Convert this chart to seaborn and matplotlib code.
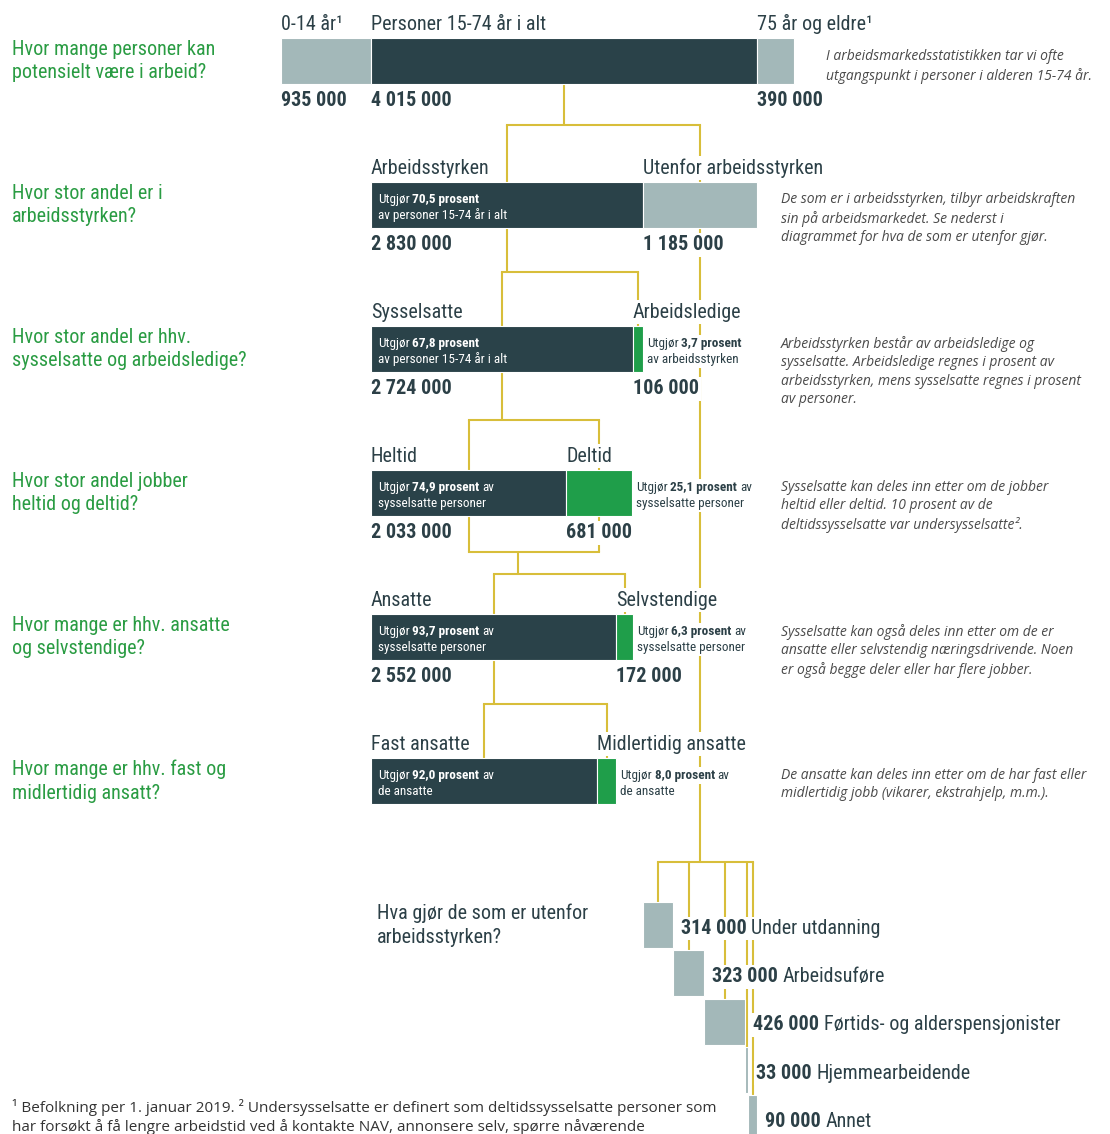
import matplotlib
matplotlib.use("Agg")
import matplotlib.pyplot as plt
import seaborn as sns

# ---------------- data ----------------
pop_labels = ["0-14 år¹", "Personer 15-74 år i alt", "75 år og eldre¹"]
pop_values = [935000, 4015000, 390000]

force_labels = ["Arbeidsstyrken", "Utenfor arbeidsstyrken"]
force_values = [2830000, 1185000]
force_pct = [70.5]

emp_labels = ["Sysselsatte", "Arbeidsledige"]
emp_values = [2724000, 106000]
emp_pct = [67.8, 3.7]

time_labels = ["Heltid", "Deltid"]
time_values = [2033000, 681000]
time_pct = [74.9, 25.1]

status_labels = ["Ansatte", "Selvstendige"]
status_values = [2552000, 172000]
status_pct = [93.7, 6.3]

contract_labels = ["Fast ansatte", "Midlertidig ansatte"]
contract_pct = [92.0, 8.0]

outside_labels = ["Under utdanning", "Arbeidsuføre", "Førtids- og alderspensjonister",
                  "Hjemmearbeidende", "Annet"]
outside_values = [314000, 323000, 426000, 33000, 90000]

questions = [
    "Hvor mange personer kan\npotensielt være i arbeid?",
    "Hvor stor andel er i\narbeidsstyrken?",
    "Hvor stor andel er hhv.\nsysselsatte og arbeidsledige?",
    "Hvor stor andel jobber\nheltid og deltid?",
    "Hvor mange er hhv. ansatte\nog selvstendige?",
    "Hvor mange er hhv. fast og\nmidlertidig ansatt?",
]
notes = [
    "I arbeidsmarkedsstatistikken tar vi ofte\nutgangspunkt i personer i alderen 15-74 år.",
    "De som er i arbeidsstyrken, tilbyr arbeidskraften\nsin på arbeidsmarkedet. Se nederst i\ndiagrammet for hva de som er utenfor gjør.",
    "Arbeidsstyrken består av arbeidsledige og\nsysselsatte. Arbeidsledige regnes i prosent av\narbeidsstyrken, mens sysselsatte regnes i prosent\nav personer.",
    "Sysselsatte kan deles inn etter om de jobber\nheltid eller deltid. 10 prosent av de\ndeltidssysselsatte var undersysselsatte².",
    "Sysselsatte kan også deles inn etter om de er\nansatte eller selvstendig næringsdrivende. Noen\ner også begge deler eller har flere jobber.",
    "De ansatte kan deles inn etter om de har fast eller\nmidlertidig jobb (vikarer, ekstrahjelp, m.m.).",
]
outside_question = "Hva gjør de som er utenfor\narbeidsstyrken?"
footnote = ("¹ Befolkning per 1. januar 2019. ² Undersysselsatte er definert som deltidssysselsatte personer som\n"
            "har forsøkt å få lengre arbeidstid ved å kontakte NAV, annonsere selv, spørre nåværende")

# ---------------- style ----------------
sns.set_theme(style="white")
COND = ["Roboto Condensed", "Roboto", "DejaVu Sans"]
NOTEF = ["Open Sans", "DejaVu Sans"]
plt.rcParams["font.family"] = COND

DARK = "#2a4249"
LIGHT = "#a3b8b9"
GREEN = "#1f9e4a"
GOLD = "#d8be3a"
QGREEN = "#2a9c43"
TXT = "#2c4047"
NOTEC = "#4a4a4a"
LW = 1.5

W, H = 1110, 1134
X0 = 371                      # pixel where 15-74 bar starts
S = 386 / 4015000             # pixels per person
ROW_Y = [61, 205, 349, 493, 637, 781]
BAR_H = 46
BOX_Y0, BOX_STEP = 925, 48.25
JY = [125, 272, 420, 552, 574, 704, 862]

LAB_FS, NUM_FS, IN_FS, Q_FS, NOTE_FS, FOOT_FS = 14.5, 14.5, 9.5, 14.5, 10, 11

fig = plt.figure(figsize=(W / 100, H / 100), dpi=100)
fig.patch.set_facecolor("white")
ax = fig.add_axes([0, 0, 1, 1])
ax.set_xlim(-X0 / S, (W - X0) / S)
ax.set_ylim(H, 0)
ax.axis("off")
axp = fig.add_axes([0, 0, 1, 1])
axp.set_xlim(0, W)
axp.set_ylim(H, 0)
axp.axis("off")
axp.patch.set_alpha(0)

WB = dict(boxstyle="square,pad=0.12", fc="white", ec="none")


def px(n):
    return n / S


def fmt(v):
    return f"{int(round(v)):,}".replace(",", " ")


def pct(p):
    return f"{p:.1f}".replace(".", ",") + " prosent"


def rich(x, y, parts, color, size, bbox=None, gap=0.2):
    """Draw text pieces on one common baseline y (data units)."""
    t = ax.text(x, y, parts[0][0], fontweight=parts[0][1], color=color, fontsize=size,
                va="baseline", ha="left", zorder=5, bbox=bbox)
    for s, w in parts[1:]:
        t = ax.annotate(s, xy=(1, y), xycoords=(t, "data"), xytext=(gap * size, 0),
                        textcoords="offset points", va="baseline", ha="left",
                        fontweight=w, color=color, fontsize=size, zorder=5, bbox=bbox)
    return t


contract_values = [p / 100 * status_values[0] for p in contract_pct]

rows = [
    dict(vals=pop_values, lefts=[-pop_values[0], 0, pop_values[1]], colors=[LIGHT, DARK, LIGHT],
         labels=pop_labels, nums=True),
    dict(vals=force_values, colors=[DARK, LIGHT], labels=force_labels, nums=True),
    dict(vals=emp_values, colors=[DARK, GREEN], labels=emp_labels, nums=True),
    dict(vals=time_values, colors=[DARK, GREEN], labels=time_labels, nums=True),
    dict(vals=status_values, colors=[DARK, GREEN], labels=status_labels, nums=True),
    dict(vals=contract_values, colors=[DARK, GREEN], labels=contract_labels, nums=False),
]
for r in rows:
    if "lefts" not in r:
        r["lefts"] = [0, r["vals"][0]]
    r["centers"] = [l + v / 2 for l, v in zip(r["lefts"], r["vals"])]

# bars
for i, r in enumerate(rows):
    y = ROW_Y[i]
    ax.barh([y] * len(r["vals"]), r["vals"], left=r["lefts"], height=BAR_H,
            color=r["colors"], edgecolor="white", linewidth=0.8, zorder=2)
    for l, v, lab in zip(r["lefts"], r["vals"], r["labels"]):
        ax.text(l, y - BAR_H / 2 - 14, lab, fontsize=LAB_FS, color=TXT, va="center",
                ha="left", zorder=5, bbox=WB)
        if r["nums"]:
            ax.text(l, y + BAR_H / 2 + 17, fmt(v), fontsize=NUM_FS, color=TXT,
                    fontweight="bold", va="center", ha="left", zorder=5, bbox=WB)

# text inside / beside bars
inner = [
    None,
    ([("Utgjør", "normal"), (pct(force_pct[0]), "bold")], "av personer 15-74 år i alt", None, None),
    ([("Utgjør", "normal"), (pct(emp_pct[0]), "bold")], "av personer 15-74 år i alt",
     [("Utgjør", "normal"), (pct(emp_pct[1]), "bold")], "av arbeidsstyrken"),
    ([("Utgjør", "normal"), (pct(time_pct[0]), "bold"), ("av", "normal")], "sysselsatte personer",
     [("Utgjør", "normal"), (pct(time_pct[1]), "bold"), ("av", "normal")], "sysselsatte personer"),
    ([("Utgjør", "normal"), (pct(status_pct[0]), "bold"), ("av", "normal")], "sysselsatte personer",
     [("Utgjør", "normal"), (pct(status_pct[1]), "bold"), ("av", "normal")], "sysselsatte personer"),
    ([("Utgjør", "normal"), (pct(contract_pct[0]), "bold"), ("av", "normal")], "de ansatte",
     [("Utgjør", "normal"), (pct(contract_pct[1]), "bold"), ("av", "normal")], "de ansatte"),
]
for i, spec in enumerate(inner):
    if spec is None:
        continue
    r = rows[i]
    y = ROW_Y[i]
    l1, l2, r1, r2 = spec
    xl = r["lefts"][0] + px(7)
    rich(xl, y - 2, l1, "white", IN_FS)
    ax.text(xl, y + 14, l2, color="white", fontsize=IN_FS, va="baseline", ha="left", zorder=5)
    if r1 is not None:
        xr = r["lefts"][1] + r["vals"][1] + px(4)
        rich(xr, y - 2, r1, TXT, IN_FS, bbox=WB)
        ax.text(xr, y + 14, r2, color=TXT, fontsize=IN_FS, va="baseline", ha="left",
                zorder=5, bbox=WB)

# connectors
def vline(x, y0, y1):
    ax.plot([x, x], [y0, y1], color=GOLD, lw=LW, zorder=1, solid_capstyle="butt")


def hline(x0, x1, y):
    ax.plot([min(x0, x1), max(x0, x1)], [y, y], color=GOLD, lw=LW, zorder=1,
            solid_capstyle="projecting")


bot = lambda i: ROW_Y[i] + BAR_H / 2
top = lambda i: ROW_Y[i] - BAR_H / 2

# population -> labour force
vline(rows[0]["centers"][1], bot(0), JY[0])
hline(rows[1]["centers"][0], rows[1]["centers"][1], JY[0])
vline(rows[1]["centers"][0], JY[0], top(1))

# labour force -> employed / unemployed
vline(rows[1]["centers"][0], bot(1), JY[1])
hline(rows[2]["centers"][0], rows[2]["centers"][1], JY[1])
for c in rows[2]["centers"]:
    vline(c, JY[1], top(2))

# employed -> full / part time
vline(rows[2]["centers"][0], bot(2), JY[2])
hline(rows[3]["centers"][0], rows[3]["centers"][1], JY[2])
for c in rows[3]["centers"]:
    vline(c, JY[2], top(3))

# full/part time -> employees / self-employed
for c in rows[3]["centers"]:
    vline(c, bot(3), JY[3])
hline(rows[3]["centers"][0], rows[3]["centers"][1], JY[3])
mid = (rows[2]["centers"][0] + sum(rows[3]["centers"]) / 2) / 2
vline(mid, JY[3], JY[4])
hline(rows[4]["centers"][0], rows[4]["centers"][1], JY[4])
for c in rows[4]["centers"]:
    vline(c, JY[4], top(4))

# employees -> permanent / temporary
vline(rows[4]["centers"][0], bot(4), JY[5])
hline(rows[5]["centers"][0], rows[5]["centers"][1], JY[5])
for c in rows[5]["centers"]:
    vline(c, JY[5], top(5))

# outside the labour force
box_lefts = []
acc = force_values[0]
for v in outside_values:
    box_lefts.append(acc)
    acc += v
box_centers = [l + v / 2 for l, v in zip(box_lefts, outside_values)]
box_y = [BOX_Y0 + BOX_STEP * k for k in range(len(outside_values))]
vline(rows[1]["centers"][1], JY[0], JY[6])
hline(box_centers[0], box_centers[-1], JY[6])
for c, yb in zip(box_centers, box_y):
    vline(c, JY[6], yb - BAR_H / 2)
ax.barh(box_y, outside_values, left=box_lefts, height=BAR_H, color=LIGHT,
        edgecolor="white", linewidth=0.8, zorder=2)
for l, v, yb, lab in zip(box_lefts, outside_values, box_y, outside_labels):
    rich(l + v + px(8), yb + 9, [(fmt(v), "bold"), (lab, "normal")], TXT, LAB_FS, bbox=WB, gap=0.22)

# free text
for i, q in enumerate(questions):
    axp.text(12, ROW_Y[i], q, color=QGREEN, fontsize=Q_FS, va="center", ha="left",
             linespacing=1.32)
axp.text(377, BOX_Y0, outside_question, color=TXT, fontsize=Q_FS, va="center", ha="left",
         linespacing=1.32)
note_x = [826, 781, 781, 781, 781, 781]
for i, n in enumerate(notes):
    axp.text(note_x[i], ROW_Y[i] - 13 + (1 if i == 0 else 0), n, color=NOTEC, fontsize=NOTE_FS,
             style="italic", family=NOTEF, va="top", ha="left", linespacing=1.3)
axp.text(12, 1099, footnote, color="#333333", fontsize=FOOT_FS, family=NOTEF,
         va="top", ha="left", linespacing=1.22)

fig.savefig("out.png", dpi=100, facecolor="white")
